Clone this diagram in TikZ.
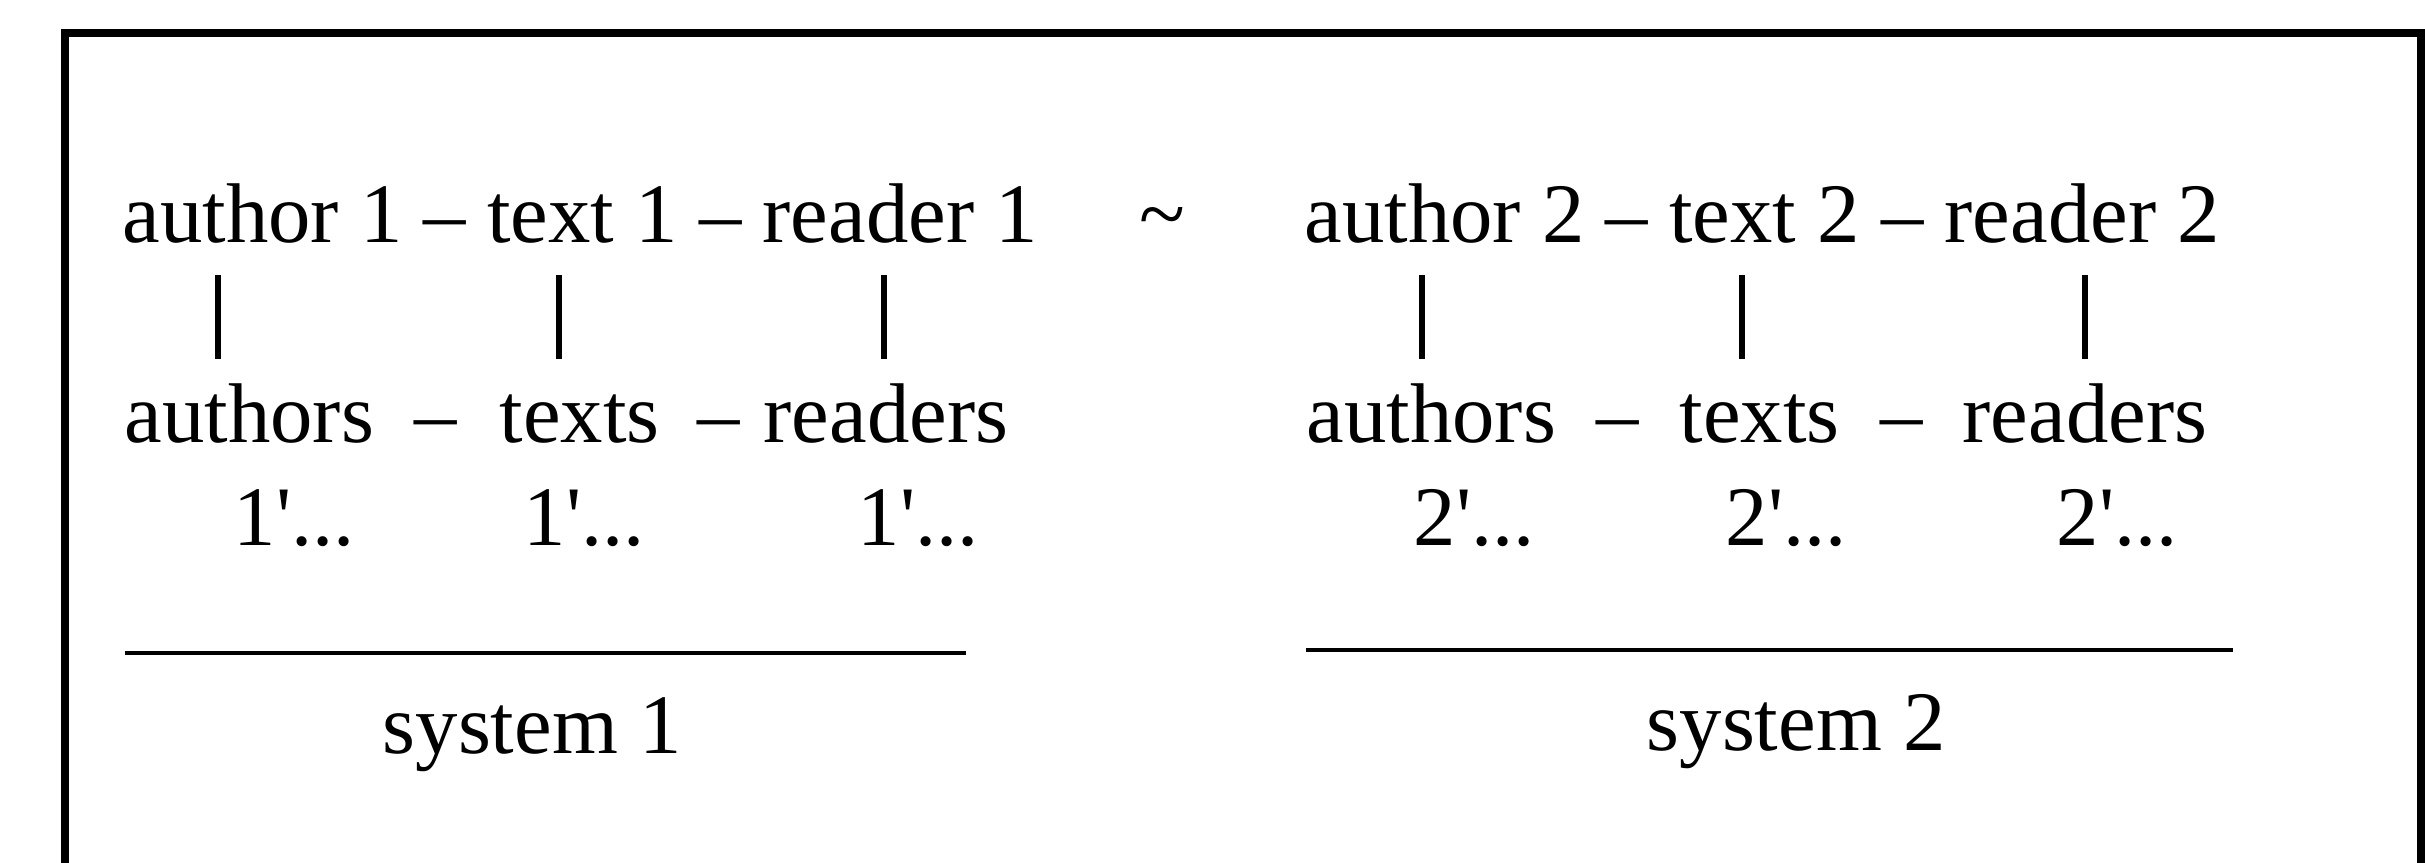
\documentclass[tikz,border=0pt]{standalone}
\usepackage{fontspec}
\setmainfont{Liberation Serif}
\usetikzlibrary{calc}
\begin{document}
\begin{tikzpicture}[
  word/.style={inner sep=0pt, anchor=base west, font=\fontsize{24.1pt}{29pt}\selectfont},
  frame/.style={line width=2.1pt, line join=miter},
  bar/.style={line width=1.5pt},
  rule/.style={line width=1.3pt}
]
\useasboundingbox (0,0) rectangle (24.25,-8.62);
\clip (0,0) rectangle (24.25,-8.62);

% open frame round both systems
\draw[frame] (0.65,-8.8) -- (0.65,-0.33) -- (24.21,-0.33) -- (24.21,-8.8);

% system 1, top row
\node[word] (a1)  at (1.22,-2.42)  {author 1};
\node[word] (d1a) at (4.23,-2.42)  {–};
\node[word] (t1)  at (4.866,-2.42) {text 1};
\node[word] (d1b) at (6.984,-2.42) {–};
\node[word] (r1)  at (7.62,-2.42)  {reader 1};

% equivalence sign between the systems
\node[word] (eq) at (11.386,-2.42) {\textasciitilde};

% system 2, top row
\node[word] (a2)  at (13.04,-2.42)  {author 2};
\node[word] (d2a) at (16.05,-2.42)  {–};
\node[word] (t2)  at (16.686,-2.42) {text 2};
\node[word] (d2b) at (18.804,-2.42) {–};
\node[word] (r2)  at (19.44,-2.42)  {reader 2};

% system 1, plural row
\node[word] (as1) at (1.24,-4.42) {authors};
\node[word] (e1a) at (4.14,-4.42) {–};
\node[word] (ts1) at (4.99,-4.42) {texts};
\node[word] (e1b) at (6.97,-4.42) {–};
\node[word] (rs1) at (7.63,-4.42) {readers};

% system 2, plural row
\node[word] (as2) at (13.06,-4.42) {authors};
\node[word] (e2a) at (15.96,-4.42) {–};
\node[word] (ts2) at (16.79,-4.42) {texts};
\node[word] (e2b) at (18.80,-4.42) {–};
\node[word] (rs2) at (19.62,-4.42) {readers};

% indices under the plural row
\node[word] (n1a) at (2.33,-5.45) {1\textquotesingle...};
\node[word] (n1b) at (5.23,-5.45) {1\textquotesingle...};
\node[word] (n1c) at (8.57,-5.45) {1\textquotesingle...};
\node[word] (n2a) at (14.13,-5.45) {2\textquotesingle...};
\node[word] (n2b) at (17.25,-5.45) {2\textquotesingle...};
\node[word] (n2c) at (20.56,-5.45) {2\textquotesingle...};

% vertical links between the rows, from below one baseline to above the next
\coordinate (bx1) at (2.18,0);
\coordinate (bx2) at (5.59,0);
\coordinate (bx3) at (8.84,0);
\coordinate (bx4) at (14.22,0);
\coordinate (bx5) at (17.42,0);
\coordinate (bx6) at (20.85,0);
\foreach \up/\dn/\bx in {a1/as1/bx1, t1/ts1/bx2, r1/rs1/bx3, a2/as2/bx4, t2/ts2/bx5, r2/rs2/bx6}
  \draw[bar] ($(\up.base -| \bx)+(0,-0.33)$) -- ($(\dn.base -| \bx)+(0,0.83)$);

% rules and system labels
\draw[rule] (1.25,-6.53) -- (9.66,-6.53);
\draw[rule] (13.06,-6.50) -- (22.33,-6.50);
\node[word] (s1) at (3.82,-7.53)  {system 1};
\node[word] (s2) at (16.46,-7.50) {system 2};
\end{tikzpicture}
\end{document}
